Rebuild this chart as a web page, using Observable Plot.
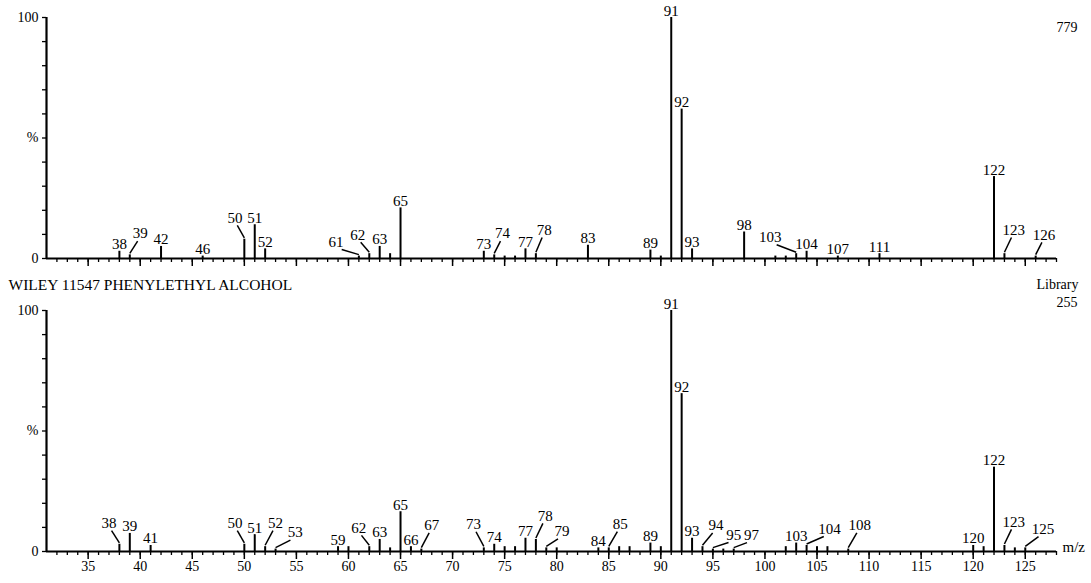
<!DOCTYPE html>
<html>
<head>
<meta charset="utf-8">
<script src="https://cdn.jsdelivr.net/npm/d3@7"></script>
<script src="https://cdn.jsdelivr.net/npm/@observablehq/plot@0.6"></script>
<style>
  body { margin: 0; background: #fff; }
  #chart { width: 1091px; height: 583px; }
  #chart svg { display: block; }
</style>
</head>
<body>
<div id="chart"></div>
<script>
// Sample spectrum (relative abundance, % of base peak m/z 91)
const sampleMz = [38, 39, 42, 46, 50, 51, 52, 61, 62, 63, 64, 65, 73, 74, 75, 76, 77, 78, 83, 89, 90, 91, 92, 93, 98, 101, 102, 103, 104, 107, 111, 122, 123, 126];
const sampleInt = [3, 1.5, 5, 1, 8, 14, 4, 1, 2, 5, 2, 21, 3, 1.5, 1, 1, 4, 2, 5.5, 3.5, 1, 100, 62, 4, 11, 1, 1, 2, 3, 1, 2, 34, 2, 1];
const sampleLabels = [38, 39, 42, 46, 50, 51, 52, 61, 62, 63, 65, 73, 74, 77, 78, 83, 89, 91, 92, 93, 98, 103, 104, 107, 111, 122, 123, 126];

// Library spectrum: WILEY 11547 phenylethyl alcohol
const libraryMz = [38, 39, 41, 50, 51, 52, 53, 59, 60, 62, 63, 64, 65, 66, 67, 73, 74, 75, 76, 77, 78, 79, 80, 84, 85, 86, 87, 89, 90, 91, 92, 93, 94, 95, 96, 97, 102, 103, 104, 105, 106, 108, 120, 121, 122, 123, 124, 125];
const libraryInt = [3, 7.5, 2.5, 3, 7, 2, 1, 2, 2, 2, 5, 1.5, 16.5, 2, 1, 1.5, 3, 2, 2, 5.5, 5, 1.5, 1.5, 1.5, 1.5, 2, 2, 3.5, 2, 100, 65.5, 5.5, 2, 1, 1, 1, 2, 3.5, 2.5, 2, 2, 1, 2.5, 2, 35, 2.5, 1.5, 1.5];
const libraryLabels = [38, 39, 41, 50, 51, 52, 53, 59, 62, 63, 65, 66, 67, 73, 74, 77, 78, 79, 84, 85, 89, 91, 92, 93, 94, 95, 97, 103, 104, 108, 120, 122, 123, 125];

const xTickLabels = d3.range(35, 126, 5);
const yTickText = {0: "0", 50: "%", 100: "100"};

// Peak labels that sit off to one side on a leader line: [shift in m/z, lift in %]
const sampleLeaders = {39: [1.0, 6], 50: [-0.9, 6], 61: [-2.2, 3], 62: [-1.1, 5], 74: [0.8, 6], 78: [0.8, 7], 103: [-2.5, 4], 123: [0.9, 7], 126: [0.8, 6]};
const libraryLeaders = {38: [-1.0, 6], 50: [-0.9, 6], 52: [1.0, 7], 53: [1.9, 4], 62: [-1.0, 5], 67: [1.0, 7], 73: [-1.0, 7], 78: [0.9, 7], 79: [1.5, 4], 85: [1.1, 7], 94: [1.3, 6], 95: [2.0, 3], 97: [1.7, 3], 104: [2.2, 4], 108: [1.1, 7], 123: [0.9, 7], 125: [1.7, 5]};

const serif = "Liberation Serif, Times New Roman, serif";

function panel({mz, intensity, labels, leaders, height, marginTop, marginBottom, showTickLabels, notes}) {
  const peaks = mz.map((m, i) => ({mz: m, pct: intensity[i]}));
  const byMz = new Map(peaks.map(p => [p.mz, p]));
  const tags = labels.map(m => {
    const p = byMz.get(m);
    const l = leaders[m];
    return l
      ? {mz: m, pct: p.pct, tx: m + l[0], ty: p.pct + l[1], lead: true}
      : {mz: m, pct: p.pct, tx: m, ty: p.pct, lead: false};
  });
  return Plot.plot({
    width: 1091,
    height,
    marginLeft: 46,
    marginRight: 35,
    marginTop,
    marginBottom,
    x: {domain: [31, 128]},
    y: {domain: [0, 100]},
    style: {fontFamily: serif, fontSize: "14px", color: "#000", background: "transparent", overflow: "visible"},
    marks: [
      Plot.axisY({ticks: d3.range(0, 101, 10), tickSize: 4, tickPadding: 4, strokeWidth: 1.3, tickFormat: d => yTickText[d] ?? "", label: null, fontSize: 14}),
      Plot.axisX({ticks: d3.range(32, 129), tickSize: 4, strokeWidth: 1.3, tickFormat: () => "", label: null}),
      Plot.axisX({ticks: xTickLabels, tickSize: 8, tickPadding: 2, strokeWidth: 1.5, tickFormat: showTickLabels ? d => String(d) : () => "", label: null, fontSize: 14}),
      Plot.ruleY([0], {strokeWidth: 2.2}),
      Plot.ruleX([31], {strokeWidth: 2.2}),
      Plot.ruleX(peaks, {x: "mz", y1: 0, y2: "pct", strokeWidth: 2}),
      Plot.link(tags.filter(t => t.lead), {
        x1: "mz", y1: d => d.pct + 0.6,
        x2: d => d.mz + (d.tx - d.mz) * 0.75, y2: d => d.ty - 0.3,
        strokeWidth: 1.5
      }),
      Plot.text(tags, {x: "tx", y: "ty", text: d => String(d.mz), lineAnchor: "bottom", dy: -2, fontSize: 15}),
      ...notes
    ]
  });
}

const samplePanel = panel({
  mz: sampleMz, intensity: sampleInt, labels: sampleLabels, leaders: sampleLeaders,
  height: 275, marginTop: 17, marginBottom: 17, showTickLabels: false,
  notes: [
    Plot.text(["779"], {text: d => d, frameAnchor: "top-right", dx: 21, dy: 5, textAnchor: "end", fontSize: 14})
  ]
});

const libraryPanel = panel({
  mz: libraryMz, intensity: libraryInt, labels: libraryLabels, leaders: libraryLeaders,
  height: 308, marginTop: 35, marginBottom: 32, showTickLabels: true,
  notes: [
    Plot.text(["WILEY 11547 PHENYLETHYL ALCOHOL"], {text: d => d, frameAnchor: "top-left", dx: -38, dy: -32, textAnchor: "start", fontSize: 15.5}),
    Plot.text(["Library"], {text: d => d, frameAnchor: "top-right", dx: 22, dy: -31, textAnchor: "end", fontSize: 14}),
    Plot.text(["255"], {text: d => d, frameAnchor: "top-right", dx: 21, dy: -13, textAnchor: "end", fontSize: 14}),
    Plot.text(["m/z"], {text: d => d, frameAnchor: "bottom-right", dx: 6, textAnchor: "start", fontSize: 15})
  ]
});

document.getElementById("chart").append(samplePanel, libraryPanel);
</script>
</body>
</html>
